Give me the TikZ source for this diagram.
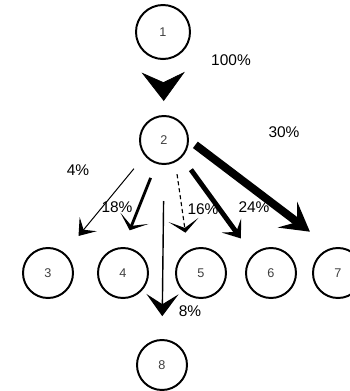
\documentclass[tikz,border=0pt]{standalone}
\usepackage{fontspec}
\setmainfont{Liberation Sans}
\usetikzlibrary{arrows.meta, positioning}

\begin{document}
\begin{tikzpicture}[x=0.025cm, y=-0.025cm,
  state/.style={draw, circle, line width=1.4pt, minimum size=1.25cm,
    inner sep=0pt, font=\small, text=black!75},
  pct/.style={font=\fontsize{11}{13}\selectfont, inner sep=0pt},
  head/.style n args={3}{-{Stealth[length=#1, width=#2, inset=#3]}}
]
  \useasboundingbox (0,0) rectangle (350,391);

  % States
  \node[state, minimum size=1.35cm] (s1) at (163,32)  {1};
  \node[state, minimum size=1.2cm]  (s2) at (164,140) {2};
  \node[state] (s3) at (48,273)  {3};
  \node[state] (s4) at (123,273) {4};
  \node[state] (s5) at (201,273) {5};
  \node[state] (s6) at (271,273) {6};
  \node[state] (s7) at (338,273) {7};
  \node[state] (s8) at (162,365) {8};

  % 1 to 2
  \draw[head={0.72cm}{1.08cm}{0.25cm}, line width=0.5pt,
    shorten <=0.65cm, shorten >=0.35cm] (s1.south) -- (s2.north);
  \node[pct] (p100) at (231,60) {100\%};

  % 2 to the others
  \draw[head={0.38cm}{0.55cm}{0.18cm}, line width=0.7pt,
    shorten <=0.42cm, shorten >=0.55cm] (s2.219) -- (s3);
  \draw[head={0.32cm}{0.75cm}{0.2cm}, line width=2pt,
    shorten <=0.38cm, shorten >=0.45cm] (s2.252) -- (s4.north);
  \draw[head={0.32cm}{0.75cm}{0.2cm}, line width=0.8pt, densely dashed,
    shorten <=0.3cm, shorten >=0.45cm] (s2.297) -- (s5.120);
  \draw[head={0.4cm}{0.6cm}{0.2cm}, line width=3.5pt,
    shorten <=0.38cm, shorten >=0.5cm] (s2.316) -- (s6.north west);
  \draw[head={0.7cm}{0.8cm}{0.3cm}, line width=5.7pt,
    shorten <=0.2cm, shorten >=0.67cm] (s2.east) -- (s7.105);
  \draw[head={0.55cm}{0.8cm}{0.25cm}, line width=1pt,
    shorten <=0.9cm, shorten >=0.57cm] (s2.south) -- (s8.north);

  % Labels
  \node[pct] (p4)  at (78,170)  {4\%};
  \node[pct] (p18) at (117,207) {18\%};
  \node[pct] (p16) at (203,209) {16\%};
  \node[pct] (p24) at (254,207) {24\%};
  \node[pct] (p30) at (284,132) {30\%};
  \node[pct] (p8)  at (190,311) {8\%};
\end{tikzpicture}
\end{document}
